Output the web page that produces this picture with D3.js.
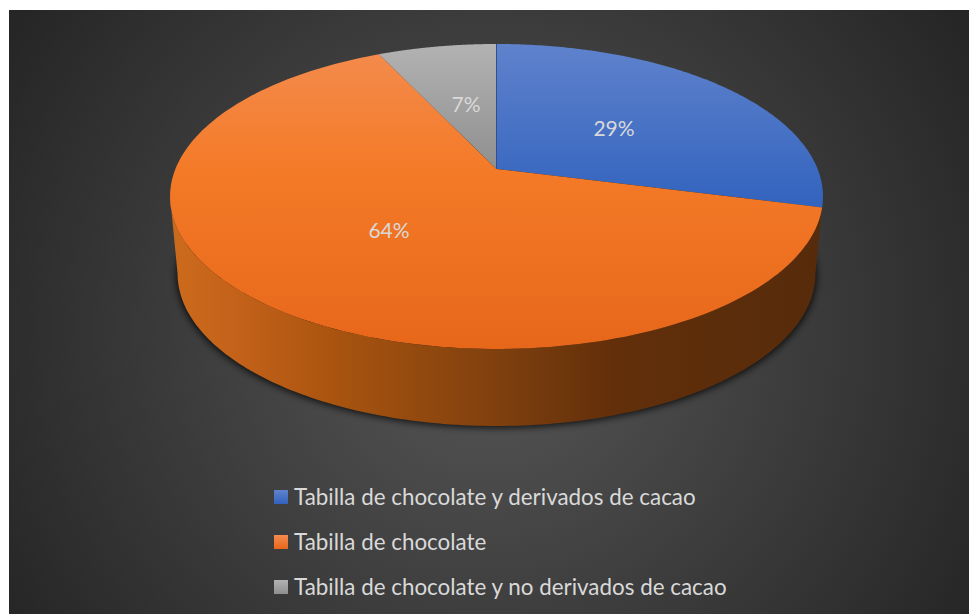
<!DOCTYPE html>
<html>
<head>
<meta charset="utf-8">
<style>
  html, body { margin: 0; padding: 0; background: #fff; }
  svg { display: block; }
</style>
<script src="https://cdn.jsdelivr.net/npm/d3@7"></script>
</head>
<body>
<svg id="chart" width="969" height="614"></svg>
<script>
const categories = [
  "Tabilla de chocolate y derivados de cacao",
  "Tabilla de chocolate",
  "Tabilla de chocolate y no derivados de cacao"
];
const values = [29, 64, 7];
const labels = ["29%", "64%", "7%"];
const topColors = [["#5f82cc", "#3263be"], ["#f38c4f", "#e7671a"], ["#b2b2b2", "#8f8f8f"]];
const labelAnchors = [[614, 129], [389, 231], [466, 105]];

const svg = d3.select("#chart");
const defs = svg.append("defs");

// Panel with a soft radial glow
const bg = defs.append("radialGradient").attr("id", "panelGlow")
  .attr("gradientUnits", "userSpaceOnUse")
  .attr("cx", 489).attr("cy", 330).attr("r", 560);
bg.append("stop").attr("offset", 0).attr("stop-color", "#575757");
bg.append("stop").attr("offset", 1).attr("stop-color", "#262626");
svg.append("rect").attr("x", 9).attr("y", 10).attr("width", 960).attr("height", 604)
  .attr("fill", "url(#panelGlow)");

// Perspective projection of the unit disc onto the tilted pie top
const cx = 496.5, apexY = 169, kx = 321.1, ky = -117.07, persp = 0.1803;
function project(u, v, scale, dy) {
  const d = 1 + persp * v;
  return [cx + scale * kx * u / d, dy + (apexY + ky * v) / d];
}
const depth = 77, bottomScale = 0.977;
const angleOf = a => [Math.sin(a), Math.cos(a)];
const rim = (a, s = 1, dy = 0) => { const [u, v] = angleOf(a); return project(u, v, s, dy); };
const rimPath = (a0, a1, s = 1, dy = 0) => d3.range(0, 161).map(i => rim(a0 + (a1 - a0) * i / 160, s, dy));

const arcs = d3.pie().sort(null)(values);
const line = d3.line();

// Blurred shadow hugging the lower edge of the body
const blur = defs.append("filter").attr("id", "soft")
  .attr("x", "-10%").attr("y", "-20%").attr("width", "120%").attr("height", "140%");
blur.append("feGaussianBlur").attr("stdDeviation", 3.5);
svg.append("path")
  .attr("d", line(rimPath(0, 2 * Math.PI, bottomScale + 0.004, depth + 2)) + "Z")
  .attr("fill", "#000").attr("opacity", 0.75).attr("filter", "url(#soft)");

// Side wall of the orange slice
const wall = defs.append("linearGradient").attr("id", "wallShade")
  .attr("gradientUnits", "userSpaceOnUse")
  .attr("x1", 170).attr("x2", 823).attr("y1", 0).attr("y2", 0);
[[0, "#cc6a1c"], [0.1, "#c4621a"], [0.25, "#a9540f"], [0.5, "#7f400e"], [0.68, "#622f0a"], [1, "#562b0b"]]
  .forEach(([o, c]) => wall.append("stop").attr("offset", o).attr("stop-color", c));
const silhouette = Math.asin(persp);
const upper = rimPath(arcs[0].endAngle, 3 * Math.PI / 2 - silhouette);
const lower = rimPath(Math.PI / 2 + silhouette, 3 * Math.PI / 2 - silhouette, bottomScale, depth).reverse();
svg.append("path").attr("d", line(upper.concat(lower)) + "Z").attr("fill", "url(#wallShade)");

// Top faces, one gradient per slice
const faces = svg.append("g");
arcs.forEach((arc, i) => {
  const id = "face" + i;
  const g = defs.append("linearGradient").attr("id", id)
    .attr("gradientUnits", "userSpaceOnUse")
    .attr("x1", 0).attr("x2", 0).attr("y1", 44).attr("y2", i === 0 ? 207 : (i === 1 ? 349 : 169));
  g.append("stop").attr("offset", 0).attr("stop-color", topColors[i][0]);
  g.append("stop").attr("offset", i === 1 ? 0.42 : 1).attr("stop-color", i === 1 ? "#f47a27" : topColors[i][1]);
  if (i === 1) g.append("stop").attr("offset", 1).attr("stop-color", topColors[i][1]);
  faces.append("path")
    .attr("d", line([[cx, apexY]].concat(rimPath(arc.startAngle, arc.endAngle))) + "Z")
    .attr("fill", `url(#${id})`);
});

// Thin dark seam where the first slice begins
svg.append("path")
  .attr("d", line([[cx, apexY], rim(0)]))
  .attr("stroke", "#2f4f8f").attr("stroke-width", 1).attr("fill", "none");

// Percentage labels
svg.append("g").selectAll("text").data(labels).join("text")
  .attr("x", (d, i) => labelAnchors[i][0])
  .attr("y", (d, i) => labelAnchors[i][1])
  .attr("dy", "0.35em")
  .attr("text-anchor", "middle")
  .attr("font-family", "Lato, 'Open Sans', sans-serif")
  .attr("font-size", 21)
  .attr("fill", "#d9d9d9")
  .text(d => d);

// Legend
const legendY = d3.scalePoint().domain(categories).range([497, 587]);
const legend = svg.append("g").selectAll("g").data(categories).join("g")
  .attr("transform", d => `translate(274,${legendY(d)})`);
legend.append("rect").attr("x", 0).attr("y", -7).attr("width", 14).attr("height", 14)
  .attr("fill", (d, i) => `url(#swatch${i})`);
topColors.forEach((c, i) => {
  const g = defs.append("linearGradient").attr("id", "swatch" + i).attr("x1", 0).attr("x2", 0).attr("y1", 0).attr("y2", 1);
  g.append("stop").attr("offset", 0).attr("stop-color", c[0]);
  g.append("stop").attr("offset", 1).attr("stop-color", c[1]);
});
legend.append("text")
  .attr("x", 20)
  .attr("dy", "0.35em")
  .attr("font-family", "Lato, 'Open Sans', sans-serif")
  .attr("font-size", 22.4)
  .attr("fill", "#d9d9d9")
  .text(d => d);
</script>
</body>
</html>
